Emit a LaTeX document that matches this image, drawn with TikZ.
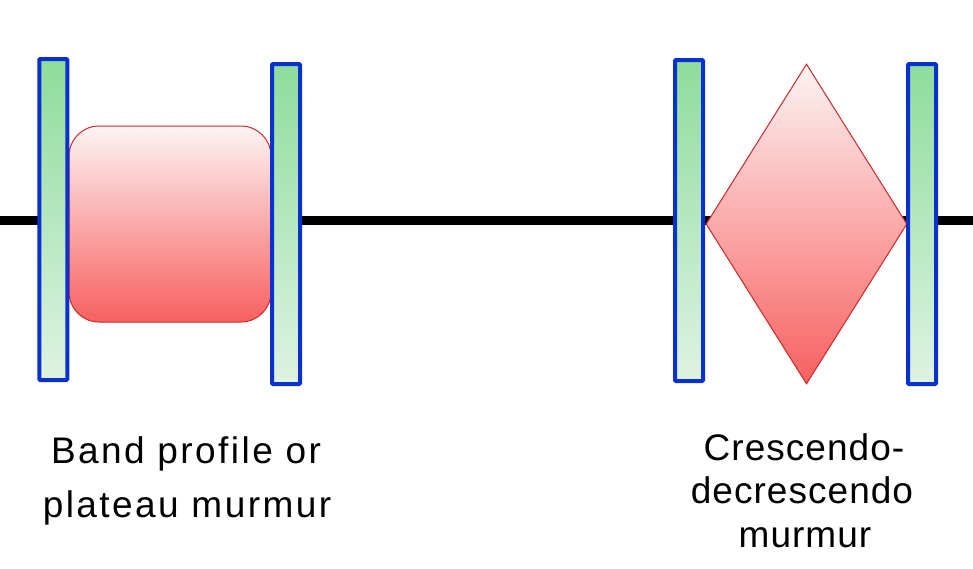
\documentclass[tikz,border=0pt]{standalone}
\usepackage{fontspec}
\setmainfont{Liberation Sans}
\newfontfamily\lsA[LetterSpace=6.6]{Liberation Sans}
\newfontfamily\lsB[LetterSpace=2.8]{Liberation Sans}
\usetikzlibrary{shapes.geometric}
\definecolor{barblue}{RGB}{10,48,205}
\definecolor{gtop}{RGB}{142,220,156}
\definecolor{gbot}{RGB}{222,243,226}
\definecolor{rtop}{RGB}{253,244,244}
\definecolor{rbot}{RGB}{248,96,96}
\definecolor{redline}{RGB}{205,40,40}
\tikzset{
  valve/.style={draw=barblue, line width=4pt, rectangle, rounded corners=1pt,
    top color=gtop, bottom color=gbot, minimum width=28pt, inner sep=0pt},
  murm/.style={draw=redline, line width=1pt, top color=rtop, bottom color=rbot, inner sep=0pt},
  lblA/.style={anchor=base, inner sep=0pt, font=\lsA\fontsize{37}{40}\selectfont},
  lblB/.style={anchor=base, inner sep=0pt, font=\lsB\fontsize{37}{40}\selectfont}
}
\begin{document}
\begin{tikzpicture}[x=1pt,y=-1pt]
\useasboundingbox (0,0) rectangle (973,568);
\coordinate (L) at (0,220.5);
\coordinate (R) at (973,220.5);
\draw[line width=9pt, black] (L) -- (R);
\node[murm, rectangle, rounded corners=30pt, minimum width=202pt, minimum height=196pt] (plateau) at (170,224) {};
\node[murm, diamond, minimum width=201pt, minimum height=320pt] (cresc) at (806.5,224) {};
\node[valve, minimum height=321pt] (v1) at (53.3,219.5) {};
\node[valve, minimum height=320pt] (v2) at (286,224) {};
\node[valve, minimum height=321pt] (v3) at (689,220.5) {};
\node[valve, minimum height=320pt] (v4) at (922,224) {};
\node[lblA] (a1) at (186,463.5) {Band profile or};
\node[lblA] (a2) at (187,517) {plateau murmur};
\node[lblB] (b1) at (804,460) {Crescendo-};
\node[lblB] (b2) at (802,503) {decrescendo};
\node[lblB] (b3) at (805,547) {murmur};
\end{tikzpicture}
\end{document}
